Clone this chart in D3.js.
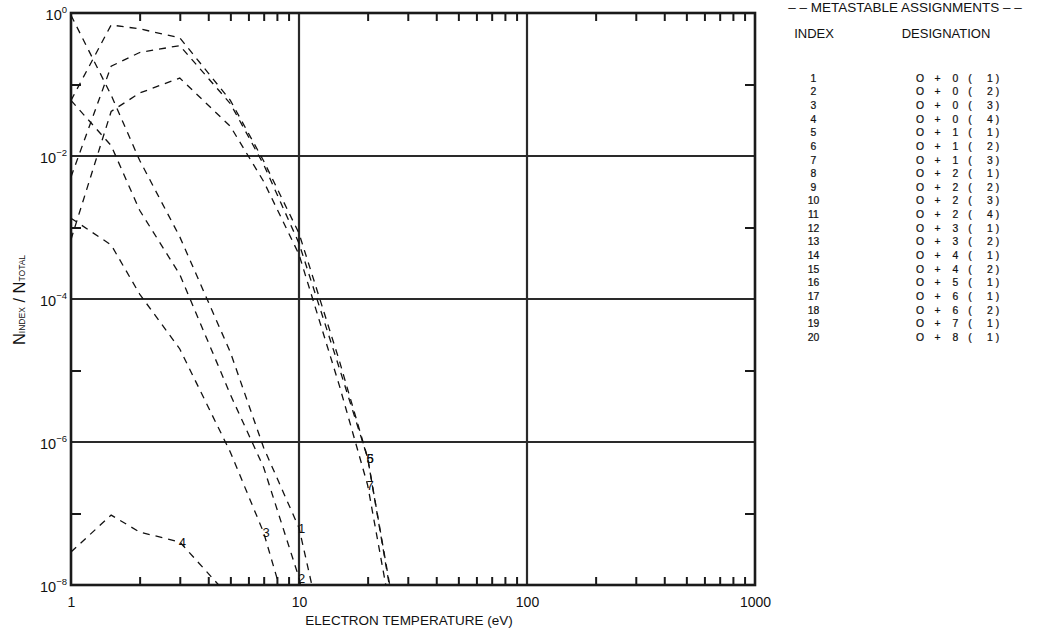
<!DOCTYPE html>
<html><head><meta charset="utf-8">
<script src="https://cdn.jsdelivr.net/npm/d3@7"></script>
<style>
body{margin:0;background:#fff;}
svg{display:block;}
text{font-family:"Liberation Sans",Arial,sans-serif;fill:#111;}
</style>
</head><body>
<svg id="chart" width="1037" height="635"></svg>
<script>
// ---- data ----
const temperatures = [1, 1.5, 2, 3, 5, 7, 10, 15, 20, 30];
const series1 = [0.93, 0.071, 8.7e-3, 7.4e-4, 1.8e-5, 8.3e-7, 6.3e-8, 2e-10, null, null];
const series2 = [6.0e-2, 1.4e-2, 1.74e-3, 2.2e-4, 4.6e-6, 4.4e-7, 1.26e-8, 3e-11, null, null];
const series3 = [1.35e-3, 5.7e-4, 1.17e-4, 2.0e-5, 7.2e-7, 5.4e-8, 1.1e-9, null, null, null];
const series4 = [2.9e-8, 9.5e-8, 5.5e-8, 4.0e-8, 6.6e-9, null, null, null, null, null];
const series5 = [6.0e-2, 0.68, 0.60, 0.45, 6.0e-2, 8.5e-3, 8.3e-4, 1.4e-5, 6.0e-7, 3.5e-10];
const series6 = [5.1e-3, 0.18, 0.28, 0.35, 5.4e-2, 7.6e-3, 6.0e-4, 1.1e-5, 6.0e-7, 3.0e-10];
const series7 = [6.8e-4, 4.2e-2, 7.6e-2, 0.123, 2.6e-2, 4.4e-3, 4.2e-4, 6.3e-6, 2.5e-7, 2e-10];
const seriesLabels = ["1", "2", "3", "4", "5", "6", "7"];
const allSeries = [series1, series2, series3, series4, series5, series6, series7];

const xMajorTicks = [1, 10, 100, 1000];
const xMajorLabels = ["1", "10", "100", "1000"];
const yMajorTicks = [1, 1e-2, 1e-4, 1e-6, 1e-8];
const yMajorExponents = ["0", "\u22122", "\u22124", "\u22126", "\u22128"];
const yMinorTicks = [1e-1, 1e-3, 1e-5, 1e-7];

const legendIndex = ["1","2","3","4","5","6","7","8","9","10","11","12","13","14","15","16","17","18","19","20"];
const legendElement = "O";
const legendCharge = ["0","0","0","0","1","1","1","2","2","2","2","3","3","4","4","5","6","6","7","8"];
const legendMeta = ["1","2","3","4","1","2","3","1","2","3","4","1","2","1","2","1","1","2","1","1"];

// ---- layout ----
const X0 = 71, X1 = 755, Y0 = 13, Y1 = 585;
const svg = d3.select("#chart");
const x = d3.scaleLog().domain([1, 1000]).range([X0, X1]);
const y = d3.scaleLog().domain([1e-8, 1]).range([Y1, Y0]);

const xMinor = [];
[1, 10, 100].forEach(d => { for (let k = 2; k <= 9; k++) xMinor.push(d * k); });

const ink = "#1a1a1a";
const FONT = "'Liberation Sans',Arial,sans-serif";

// grid lines
svg.append("g").selectAll("line").data(xMajorTicks.slice(1, -1)).join("line")
  .attr("x1", d => x(d)).attr("x2", d => x(d)).attr("y1", Y0).attr("y2", Y1)
  .attr("stroke", "#2a2a2a").attr("stroke-width", 2.2);
svg.append("g").selectAll("line").data(yMajorTicks.slice(1, -1)).join("line")
  .attr("y1", d => y(d)).attr("y2", d => y(d)).attr("x1", X0).attr("x2", X1)
  .attr("stroke", "#2a2a2a").attr("stroke-width", 2.2);

function styleAxis(g) {
  g.select(".domain").remove();
  g.selectAll(".tick line").attr("stroke", ink).attr("stroke-width", 2);
}
// minor ticks (inward)
svg.append("g").attr("transform", `translate(0,${Y1})`)
  .call(d3.axisBottom(x).tickValues(xMinor).tickSize(-8).tickFormat("")).call(styleAxis);
svg.append("g").attr("transform", `translate(0,${Y0})`)
  .call(d3.axisTop(x).tickValues(xMinor).tickSize(-8).tickFormat("")).call(styleAxis);
svg.append("g").attr("transform", `translate(${X0},0)`)
  .call(d3.axisLeft(y).tickValues(yMinorTicks).tickSize(-10).tickFormat("")).call(styleAxis);
svg.append("g").attr("transform", `translate(${X1},0)`)
  .call(d3.axisRight(y).tickValues(yMinorTicks).tickSize(-10).tickFormat("")).call(styleAxis);

// x labels
const gxl = svg.append("g").attr("transform", `translate(0,${Y1})`)
  .call(d3.axisBottom(x).tickValues(xMajorTicks).tickSize(0).tickFormat((d, i) => xMajorLabels[i]));
gxl.select(".domain").remove();
gxl.selectAll("text").attr("dy", null).attr("y", 22).attr("font-size", 14)
  .attr("fill", ink).attr("font-family", FONT);

// y labels
const gyl = svg.append("g").attr("transform", `translate(${X0},0)`)
  .call(d3.axisLeft(y).tickValues(yMajorTicks).tickSize(0).tickFormat(""));
gyl.select(".domain").remove();
gyl.selectAll("text").each(function (d, i) {
  const t = d3.select(this);
  t.attr("dy", null).attr("x", -4).attr("y", 6).attr("font-size", 14.5).attr("fill", ink)
   .attr("font-family", FONT);
  t.append("tspan").text("10");
  t.append("tspan").attr("dy", -7).attr("font-size", 9.5).text(yMajorExponents[i]);
});

// frame
svg.append("rect").attr("x", X0).attr("y", Y0).attr("width", X1 - X0).attr("height", Y1 - Y0)
  .attr("fill", "none").attr("stroke", ink).attr("stroke-width", 2.6);

// curves
svg.append("defs").append("clipPath").attr("id", "plotclip").append("rect")
  .attr("x", X0).attr("y", Y0).attr("width", X1 - X0).attr("height", Y1 - Y0);
const line = d3.line()
  .defined(d => d[1] != null)
  .x(d => x(d[0])).y(d => y(d[1]));
const gc = svg.append("g").attr("clip-path", "url(#plotclip)");
allSeries.forEach(s => {
  gc.append("path").datum(temperatures.map((t, i) => [t, s[i]]))
    .attr("d", line).attr("fill", "none").attr("stroke", "#111")
    .attr("stroke-width", 1.3).attr("stroke-dasharray", "7,6");
});
// curve labels at last point above the floor
allSeries.forEach((s, k) => {
  let last = -1;
  s.forEach((v, i) => { if (v != null && v >= 1e-8) last = i; });
  if (last < 0) return;
  svg.append("text").attr("x", x(temperatures[last]) + 2.5).attr("y", y(s[last]))
    .attr("dy", "0.36em").attr("text-anchor", "middle").attr("font-size", 13).text(seriesLabels[k]);
});

// axis titles
svg.append("text").attr("x", 409).attr("y", 625).attr("text-anchor", "middle")
  .attr("font-size", 13.5).text("ELECTRON TEMPERATURE (eV)");
const yt = svg.append("text").attr("transform", "translate(25,300) rotate(-90)")
  .attr("text-anchor", "middle").attr("font-size", 16.5);
yt.append("tspan").text("N");
yt.append("tspan").attr("font-size", 8.5).text("INDEX");
yt.append("tspan").text(" / N");
yt.append("tspan").attr("font-size", 8.5).text("TOTAL");

// legend
svg.append("text").attr("x", 905).attr("y", 12).attr("text-anchor", "middle")
  .attr("font-size", 13.5).text("\u2013 \u2013 METASTABLE ASSIGNMENTS \u2013 \u2013");
svg.append("text").attr("x", 814).attr("y", 38).attr("text-anchor", "middle")
  .attr("font-size", 13).text("INDEX");
svg.append("text").attr("x", 946).attr("y", 38).attr("text-anchor", "middle")
  .attr("font-size", 13).text("DESIGNATION");

const rowStart = 77.5, rowStep = 13.63;
// each legend column is one multi-line text element
function legendColumn(xp, values) {
  const t = svg.append("text")
    .attr("transform", `translate(${xp},${rowStart + 4.3}) scale(0.88,1)`)
    .attr("text-anchor", "middle").attr("font-size", 11.8)
    .attr("stroke", "#111").attr("stroke-width", 0.25);
  values.forEach((v, i) => {
    t.append("tspan").attr("x", 0).attr("y", i * rowStep).text(v);
  });
}
legendColumn(813.5, legendIndex);
legendColumn(920, legendIndex.map(() => legendElement));
legendColumn(937.5, legendIndex.map(() => "+"));
legendColumn(955.5, legendCharge);
legendColumn(970, legendIndex.map(() => "("));
legendColumn(990, legendMeta);
legendColumn(997.5, legendIndex.map(() => ")"));
</script>
</body></html>
